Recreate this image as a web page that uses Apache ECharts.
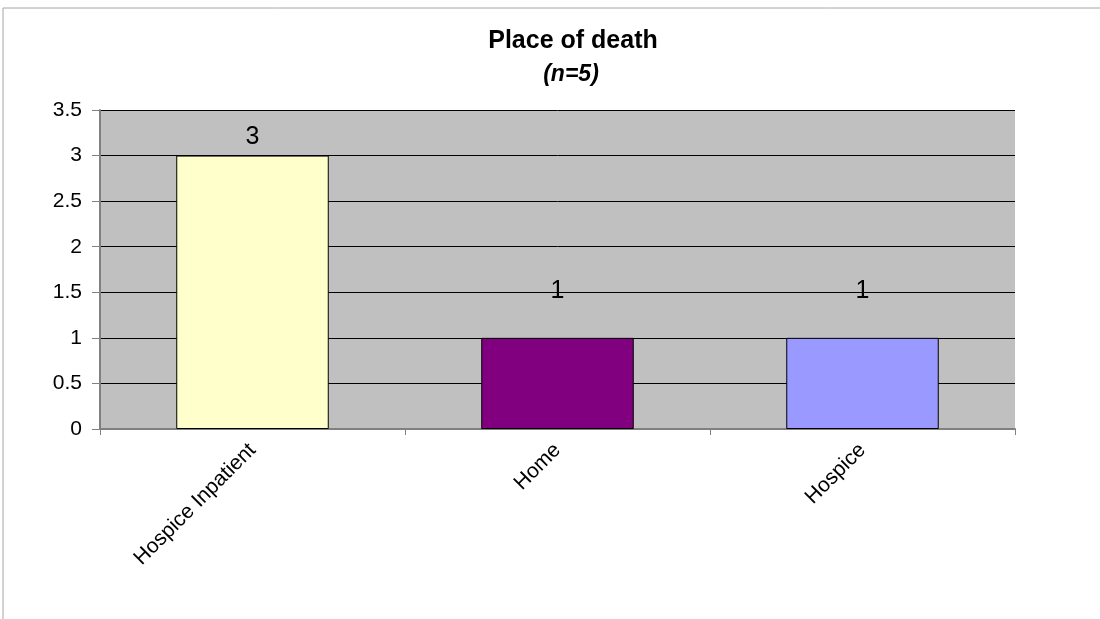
<!DOCTYPE html>
<html><head><meta charset="utf-8">
<script src="https://cdn.jsdelivr.net/npm/echarts@6/dist/echarts.min.js"></script>
<style>html,body{margin:0;padding:0;background:#fff}#c{width:1100px;height:619px}</style>
</head><body><div id="c"></div>
<script>
var categories = ['Hospice Inpatient', 'Home', 'Hospice'];
var values = [3, 1, 1];
var yTicks = [0, 0.5, 1, 1.5, 2, 2.5, 3, 3.5];

var barColors = ['#FFFFCC', '#800080', '#9999FF'];
var labelOffsets = [0, -28, -28];

var chart = echarts.init(document.getElementById('c'));
chart.setOption({
  animation: false,
  graphic: [{type: 'rect', shape: {x: 3, y: 8, width: 1200, height: 700}, style: {fill: 'none', stroke: '#a6a6a6', lineWidth: 1}, z: -10}],
  title: [
    {text: 'Place of death', left: 568, top: 24, textAlign: 'center', textStyle: {fontFamily: 'Liberation Sans, Arial', fontSize: 25, fontWeight: 'bold', color: '#000'}},
    {text: '(n=5)', left: 566, top: 58, textAlign: 'center', textStyle: {fontFamily: 'Liberation Sans, Arial', fontSize: 23, fontWeight: 'bold', fontStyle: 'italic', color: '#000'}}
  ],
  grid: {left: 100, right: 85, top: 110, bottom: 190, show: true, backgroundColor: '#C0C0C0', borderWidth: 0},
  xAxis: {
    type: 'category', data: categories,
    axisLine: {lineStyle: {color: '#808080', width: 2}},
    axisTick: {show: true, length: 6, lineStyle: {color: '#808080'}},
    axisLabel: {rotate: 45, color: '#000', fontSize: 21, fontFamily: 'Liberation Sans, Arial', margin: 18}
  },
  yAxis: {
    type: 'value', min: 0, max: 3.5, interval: 0.5,
    axisLine: {show: true, lineStyle: {color: '#808080', width: 2}},
    axisTick: {show: true, length: 8, lineStyle: {color: '#808080'}},
    splitLine: {lineStyle: {color: '#000', width: 1}},
    axisLabel: {color: '#000', fontSize: 21, fontFamily: 'Liberation Sans, Arial', margin: 18,
      formatter: function (v) { return yTicks.indexOf(v) >= 0 ? String(v) : ''; }}
  },
  series: [{
    type: 'bar', barWidth: '50%',
    data: values.map(function (v, i) {
      return {value: v, itemStyle: {color: barColors[i]}, label: {offset: [0, labelOffsets[i]]}};
    }),
    itemStyle: {borderColor: '#000', borderWidth: 1},
    label: {show: true, position: 'top', color: '#000', fontSize: 25, fontFamily: 'Liberation Sans, Arial', distance: 6}
  }]
});
</script></body></html>
